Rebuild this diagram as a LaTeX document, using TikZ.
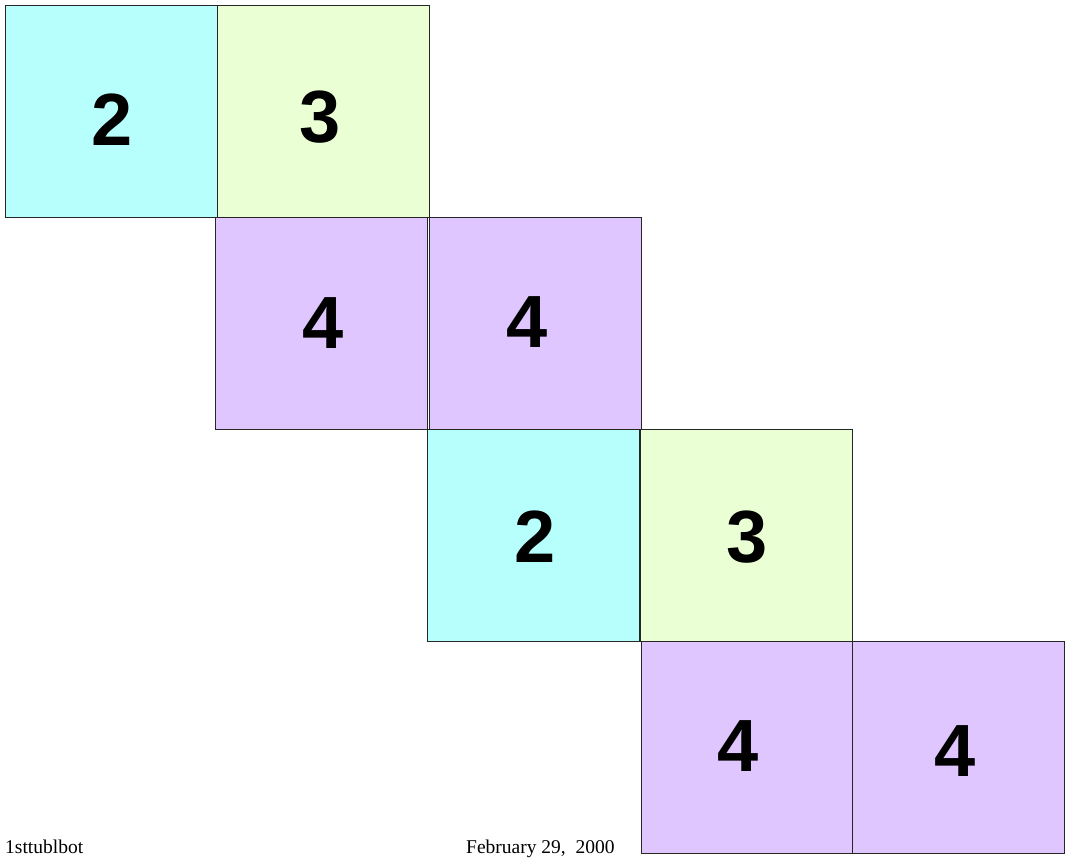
\documentclass[tikz,border=0pt]{standalone}
\usepackage{fontspec}
\setmainfont{Liberation Serif}
\newfontfamily\numfont{Liberation Sans}
\definecolor{cyanbox}{HTML}{B6FFFC}
\definecolor{greenbox}{HTML}{EAFFD4}
\definecolor{purplebox}{HTML}{E0C6FF}
\begin{document}
\begin{tikzpicture}[x=1pt,y=-1pt,
  cell/.style={draw=black!85, line width=0.9pt, minimum width=212pt, minimum height=212pt, inner sep=0pt, outer sep=0pt, anchor=north west},
  num/.style={font=\numfont\bfseries\fontsize{74}{74}\selectfont},
  foot/.style={font=\fontsize{19.5}{19.5}\selectfont, anchor=base west, inner sep=0pt}]
\fill[white] (0,0) rectangle (1065,861);
\useasboundingbox (0,0) rectangle (1065,861);
\node[cell, fill=cyanbox] (a1) at (5,5) {};
\node[cell, fill=greenbox] (a2) at (217,5) {};
\node[cell, fill=purplebox] (b1) at (215,217) {};
\node[cell, fill=purplebox] (b2) at (429,217) {};
\node[cell, fill=cyanbox] (c1) at (427,429) {};
\node[cell, fill=greenbox] (c2) at (640,429) {};
\node[cell, fill=purplebox] (d1) at (641,641) {};
\node[cell, fill=purplebox] (d2) at (852,641) {};
\node[num] (n1) at (112,120) {2};
\node[num] (n2) at (320,117) {3};
\node[num] (n3) at (323,323) {4};
\node[num] (n4) at (527,322) {4};
\node[num] (n5) at (535,537) {2};
\node[num] (n6) at (747,537) {3};
\node[num] (n7) at (738,746) {4};
\node[num] (n8) at (955,751) {4};
\node[foot] (f1) at (5,853) {1sttublbot};
\node[foot] (f2) at (466,853) {February 29,\ \ 2000};
\end{tikzpicture}
\end{document}
